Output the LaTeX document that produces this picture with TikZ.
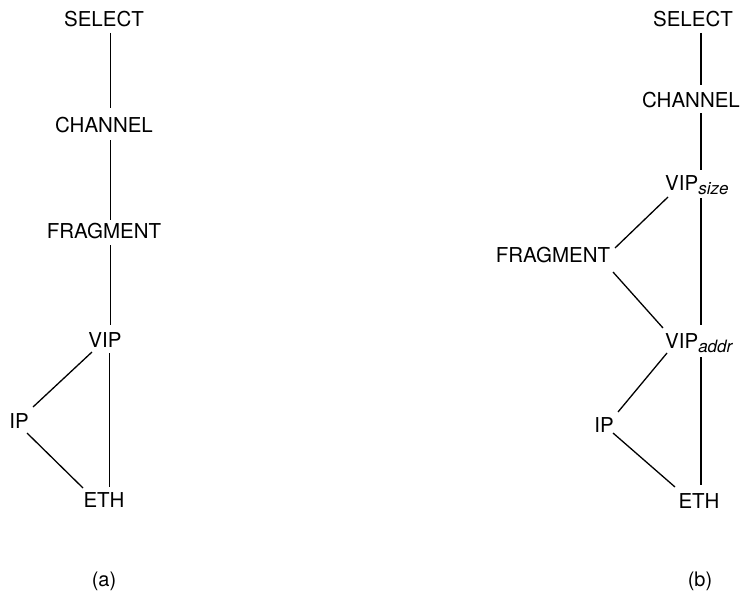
\documentclass[tikz,border=0pt]{standalone}
\usepackage{fontspec}
\setmainfont{TeX Gyre Heros}
\usetikzlibrary{calc}
\tikzset{
  lbl/.style={inner sep=0pt, font=\fontsize{20.5}{24}\selectfont},
  caplbl/.style={inner sep=0pt, font=\fontsize{20}{24}\selectfont},
  edge/.style={line width=1.3pt, black}
}
\newcommand{\subtxt}[1]{\raisebox{-4pt}{\fontsize{17}{20}\selectfont\itshape #1}}
\begin{document}
\begin{tikzpicture}[x=1pt,y=-1pt]
\useasboundingbox (0,0) rectangle (743,594);
% (a)
\node[lbl,anchor=base] (selA) at (104,27) {SELECT};
\node[lbl,anchor=base] (chanA) at (104,132) {CHANNEL};
\node[lbl,anchor=base] (fragA) at (104,238.5) {FRAGMENT};
\node[lbl,anchor=base] (vipA) at (105,347) {VIP};
\node[lbl,anchor=base] (ipA) at (19,428) {IP};
\node[lbl,anchor=base] (ethA) at (104,507) {ETH};
\node[caplbl,anchor=base] (capA) at (104,586) {(a)};
\draw[edge] ($(selA.base)+(6.5,6)$) -- ($(chanA.base)+(6.5,-24)$);
\draw[edge] ($(chanA.base)+(6.5,8)$) -- ($(fragA.base)+(6.5,-18.5)$);
\draw[edge] ($(fragA.base)+(6.5,6.5)$) -- ($(vipA.base)+(5.5,-22)$);
\draw[edge] ($(vipA.base)+(-13,5)$) -- ($(ipA.base)+(14,-21)$);
\draw[edge] ($(ipA.base)+(8,5)$) -- ($(ethA.base)+(-21,-19)$);
\draw[edge] ($(vipA.base)+(4.5,6)$) -- ($(ethA.base)+(5.5,-20)$);
% (b)
\node[lbl,anchor=base] (selB) at (693,27) {SELECT};
\node[lbl,anchor=base] (chanB) at (691,107) {CHANNEL};
\node[lbl,anchor=base west] (vszB) at (665,190) {VIP\subtxt{size}};
\node[lbl,anchor=base] (fragB) at (553,262) {FRAGMENT};
\node[lbl,anchor=base west] (vadB) at (665,348) {VIP\subtxt{addr}};
\node[lbl,anchor=base] (ipB) at (604,432) {IP};
\node[lbl,anchor=base] (ethB) at (699,508) {ETH};
\node[caplbl,anchor=base] (capB) at (700,586) {(b)};
\draw[edge] ($(selB.base)+(8,6)$) -- ($(chanB.base)+(10,-22)$);
\draw[edge] ($(chanB.base)+(10,6)$) -- ($(vszB.base west)+(36,-20)$);
\draw[edge] ($(vszB.base west)+(36,8)$) -- ($(vadB.base west)+(36,-23)$);
\draw[edge] ($(vszB.base west)+(3,7)$) -- ($(fragB.base)+(62,-14)$);
\draw[edge] ($(fragB.base)+(60,10)$) -- ($(vadB.base west)+(-2,-20)$);
\draw[edge] ($(vadB.base west)+(2,5)$) -- ($(ipB.base)+(14,-20)$);
\draw[edge] ($(ipB.base)+(9,1)$) -- ($(ethB.base)+(-24,-21)$);
\draw[edge] ($(vadB.base west)+(36,9)$) -- ($(ethB.base)+(2,-23)$);
\end{tikzpicture}
\end{document}
